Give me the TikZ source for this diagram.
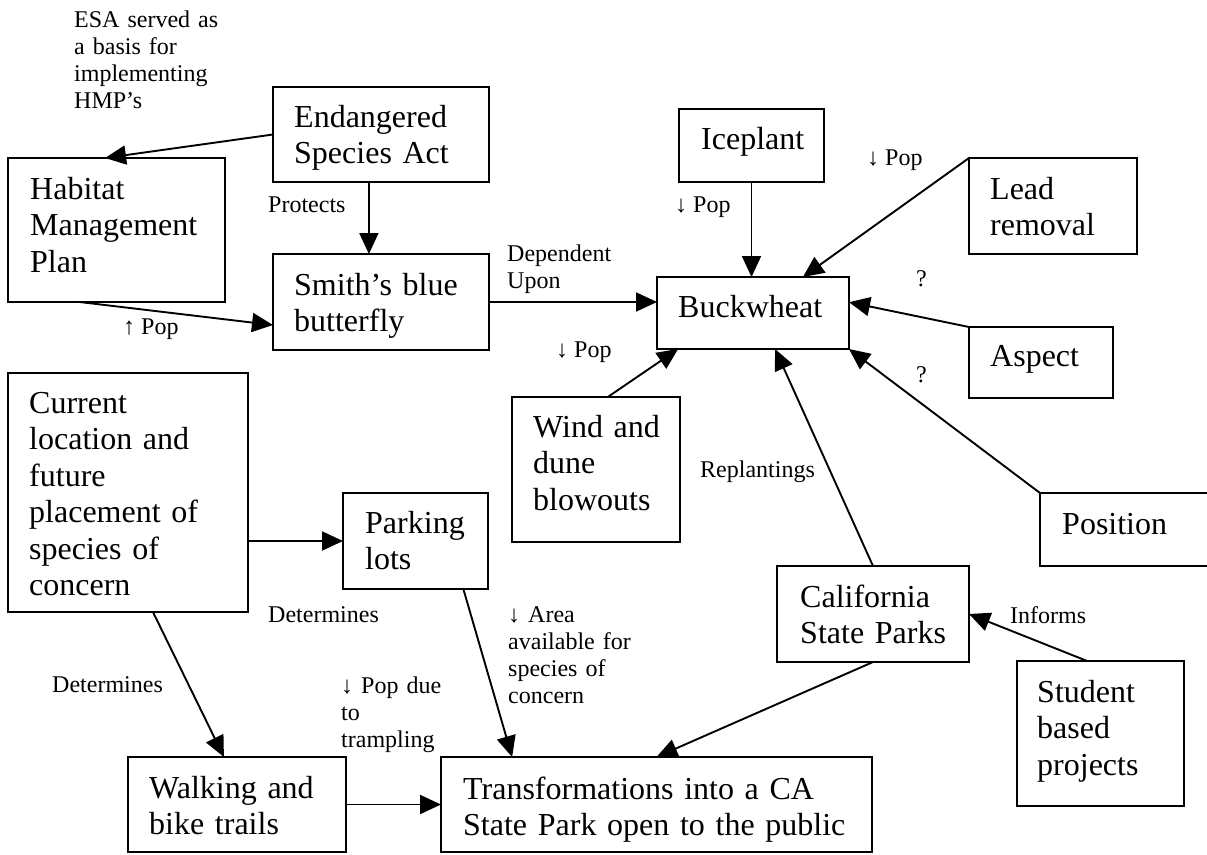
\documentclass[tikz,border=0pt]{standalone}
\usepackage{fontspec}
\setmainfont{Liberation Serif}
\usetikzlibrary{arrows.meta,calc}
\begin{document}
\begin{tikzpicture}[x=1pt,y=-1pt,
  box/.style={draw, line width=1.9pt, inner sep=0pt, outer sep=0pt},
  bigtxt/.style={anchor=base west, inner sep=0pt, align=left, text width=#1, font=\fontsize{32}{36.5}\selectfont},
  smalltxt/.style={anchor=base west, inner sep=0pt, align=left, text width=#1, font=\fontsize{24}{27.3}\selectfont},
  lbl/.style={anchor=base west, inner sep=0pt, font=\fontsize{24}{27.3}\selectfont},
  conn/.style={line width=1.9pt, -{Triangle[length=21pt,width=19pt]}}
]
\useasboundingbox (0,0) rectangle (1207,854);

% boxes
\node[box, minimum width=217pt, minimum height=144pt] (hmp) at (116.5,230) {};
\node[box, minimum width=216pt, minimum height=95pt] (esa) at (381,134.5) {};
\node[box, minimum width=216pt, minimum height=96pt] (smith) at (381,302) {};
\node[box, minimum width=145pt, minimum height=73pt] (ice) at (751.5,145.5) {};
\node[box, minimum width=168pt, minimum height=96pt] (lead) at (1053,206) {};
\node[box, minimum width=192pt, minimum height=72pt] (buck) at (753,313) {};
\node[box, minimum width=144pt, minimum height=71pt] (aspect) at (1041,362.5) {};
\node[box, minimum width=175pt, minimum height=73pt] (position) at (1127.5,529.5) {};
\node[box, minimum width=168pt, minimum height=145pt] (wind) at (596,469.5) {};
\node[box, minimum width=145pt, minimum height=96pt] (parking) at (415.5,541) {};
\node[box, minimum width=240pt, minimum height=239pt] (current) at (128,492.5) {};
\node[box, minimum width=192pt, minimum height=96pt] (cal) at (873,614) {};
\node[box, minimum width=167pt, minimum height=145pt] (student) at (1100.5,733.5) {};
\node[box, minimum width=218pt, minimum height=95pt] (walking) at (237,804.5) {};
\node[box, minimum width=431pt, minimum height=95pt] (trans) at (656.5,804.5) {};

% box texts
\node[bigtxt=180pt] (tesa) at (294,127) {Endangered\\Species Act};
\node[bigtxt=185pt] (thmp) at (30,199) {Habitat\\Management\\Plan};
\node[bigtxt=185pt] (tsmith) at (294,295) {Smith’s blue\\butterfly};
\node[bigtxt=120pt] (tice) at (701,149) {Iceplant};
\node[bigtxt=160pt] (tbuck) at (678,317) {Buckwheat};
\node[bigtxt=140pt] (tlead) at (990,199) {Lead\\removal};
\node[bigtxt=115pt] (taspect) at (990,366) {Aspect};
\node[bigtxt=140pt] (tposition) at (1062,534) {Position};
\node[bigtxt=140pt] (twind) at (533,437) {Wind and\\dune\\blowouts};
\node[bigtxt=115pt] (tparking) at (365,533) {Parking\\lots};
\node[bigtxt=210pt] (tcurrent) at (29,413) {Current\\location and\\future\\placement of\\species of\\concern};
\node[bigtxt=165pt] (tcal) at (800,607) {California\\State Parks};
\node[bigtxt=140pt] (tstudent) at (1037,702) {Student\\based\\projects};
\node[bigtxt=190pt] (twalking) at (149,798) {Walking and\\bike trails};
\node[bigtxt=400pt] (ttrans) at (463,799) {Transformations into a CA\\State Park open to the public};

% connectors
\draw[conn] (esa.west) -- ($(hmp.north west)!0.447!(hmp.north east)$);
\draw[conn] ($(esa.south west)!0.444!(esa.south east)$) -- ($(smith.north west)!0.444!(smith.north east)$);
\draw[conn] ($(hmp.south west)!0.33!(hmp.south east)$) -- ($(smith.north west)!0.74!(smith.south west)$);
\draw[conn] (smith.east) -- (smith.east -| buck.west);
\draw[conn] (ice.south) -- (ice.south |- buck.north);
\draw[conn] (lead.north west) -- ($(buck.north west)!0.76!(buck.north east)$);
\draw[conn] (aspect.north west) -- ($(buck.north east)!0.35!(buck.south east)$);
\draw[conn] (position.north west) -- (buck.south east);
\draw[conn] ($(wind.north west)!0.57!(wind.north east)$) -- ($(buck.south west)!0.11!(buck.south east)$);
\draw[conn] (cal.north) -- ($(buck.south west)!0.615!(buck.south east)$);
\draw[conn] ($(student.north west)!0.42!(student.north east)$) -- (cal.east);
\draw[conn] (cal.south) -- (trans.north);
\draw[conn] ($(parking.south west)!0.83!(parking.south east)$) -- ($(trans.north west)!0.165!(trans.north east)$);
\draw[conn] (parking.west -| current.east) -- (parking.west);
\draw[conn] ($(current.south west)!0.604!(current.south east)$) -- ($(walking.north west)!0.44!(walking.north east)$);
\draw[conn] (walking.east) -- (trans.west);

% connector labels
\node[smalltxt=160pt] (lesa) at (74,27) {ESA served as\\a basis for\\implementing\\HMP’s};
\node[lbl] (lprot) at (268,212) {Protects};
\node[lbl] (lpop1) at (123,334) {↑ Pop};
\node[smalltxt=130pt] (ldep) at (507,261) {Dependent\\Upon};
\node[lbl] (lpop2) at (675,212) {↓ Pop};
\node[lbl] (lpop3) at (867,165) {↓ Pop};
\node[lbl] (lq1) at (916,286) {?};
\node[lbl] (lq2) at (916,382) {?};
\node[lbl] (lpop4) at (556,357) {↓ Pop};
\node[lbl] (lrep) at (700,477) {Replantings};
\node[lbl] (linf) at (1010,623) {Informs};
\node[lbl] (ldet1) at (268,622) {Determines};
\node[smalltxt=140pt] (larea) at (508,622) {↓ Area\\available for\\species of\\concern};
\node[lbl] (ldet2) at (52,692) {Determines};
\node[smalltxt=120pt] (lpopdue) at (341,693) {↓ Pop due\\to\\trampling};
\end{tikzpicture}
\end{document}
